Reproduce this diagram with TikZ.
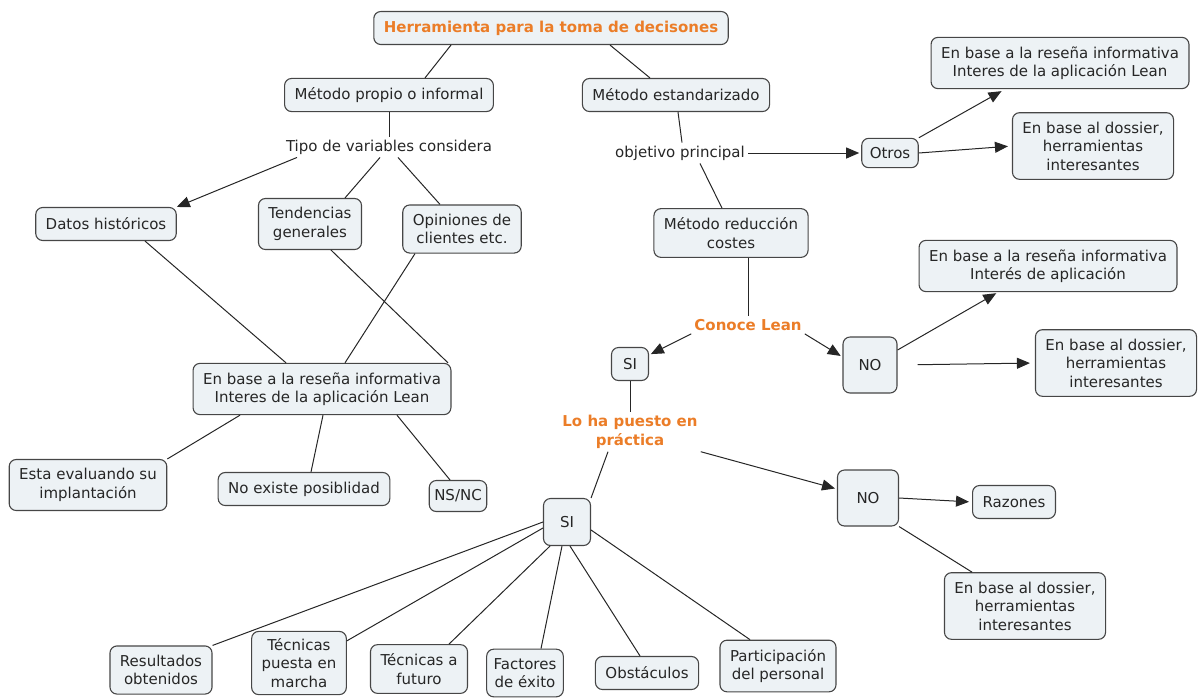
\documentclass[tikz,border=0pt]{standalone}
\usepackage{fontspec}
\setmainfont{DejaVu Sans}
\usetikzlibrary{arrows.meta}
\definecolor{fondo}{RGB}{237,242,245}
\definecolor{borde}{RGB}{70,70,70}
\definecolor{naranja}{RGB}{235,125,40}
\begin{document}
\begin{tikzpicture}[x=1pt, y=-1pt,
		caja/.style={draw=borde, fill=fondo, rounded corners=7pt, line width=1.1pt, align=center,
			inner xsep=10pt, inner ysep=9pt, minimum height=33pt, text=black!85,
			font=\fontsize{15}{18.5}\selectfont},
		etiqueta/.style={align=center, inner sep=3pt, text=black!85, font=\fontsize{15}{18.5}\selectfont},
		clave/.style={etiqueta, text=naranja, font=\bfseries\fontsize{15}{18.5}\selectfont},
		enlace/.style={draw=black!85, line width=1pt},
		flecha/.style={enlace, -{Triangle[length=13pt, width=11pt]}}]
	\useasboundingbox (0,0) rectangle (1198,697);

	% Concepts
	\node[caja, text=naranja, font=\bfseries\fontsize{15}{18.5}\selectfont] (herramienta) at (551,28) {Herramienta para la toma de decisones};
	\node[caja] (mpropio) at (389,95) {Método propio o informal};
	\node[caja] (mestand) at (676,95) {Método estandarizado};
	\node[etiqueta] (tipovar) at (389,147) {Tipo de variables considera};
	\node[caja] (datos) at (106,224) {Datos históricos};
	\node[caja] (tendencias) at (310,224) {Tendencias\\generales};
	\node[caja] (opiniones) at (462,229) {Opiniones de\\clientes etc.};
	\node[caja] (resena) at (322,389) {En base a la reseña informativa\\Interes de la aplicación Lean};
	\node[caja] (evaluando) at (88,485) {Esta evaluando su\\implantación};
	\node[caja] (noexiste) at (304,489) {No existe posiblidad};
	\node[caja, inner xsep=5pt, minimum height=31pt] (nsnc) at (458,496) {NS/NC};

	\node[etiqueta] (objetivo) at (680,153) {objetivo principal};
	\node[caja, inner xsep=8pt, minimum height=28pt] (otros) at (890,153) {Otros};
	\node[caja] (resenaOtros) at (1060,63) {En base a la reseña informativa\\Interes de la aplicación Lean};
	\node[caja] (dossierOtros) at (1093,146) {En base al dossier,\\herramientas\\interesantes};
	\node[caja] (mreduccion) at (731,233) {Método reducción\\costes};

	\node[clave] (conoce) at (748,325) {Conoce Lean};
	\node[caja, minimum width=37pt] (siConoce) at (630,364) {SI};
	\node[caja, minimum width=54pt, minimum height=56pt] (noConoce) at (870,365) {NO};
	\node[caja] (resenaNo) at (1048,266) {En base a la reseña informativa\\Interés de aplicación};
	\node[caja] (dossierNo) at (1116,363) {En base al dossier,\\herramientas\\interesantes};

	\node[clave] (practica) at (630,432) {Lo ha puesto en\\práctica};
	\node[caja, minimum width=47pt, minimum height=47pt] (siPractica) at (567,522) {SI};
	\node[caja, minimum width=61pt, minimum height=56pt] (noPractica) at (868,498) {NO};
	\node[caja] (razones) at (1014,502) {Razones};
	\node[caja] (dossierPractica) at (1025,606) {En base al dossier,\\herramientas\\interesantes};

	\node[caja] (resultados) at (161,670) {Resultados\\obtenidos};
	\node[caja, inner ysep=7pt] (tecMarcha) at (299,663) {Técnicas\\puesta en\\marcha};
	\node[caja] (tecFuturo) at (419,669) {Técnicas a\\futuro};
	\node[caja, inner xsep=7pt] (factores) at (525,673) {Factores\\de éxito};
	\node[caja] (obstaculos) at (647,673) {Obstáculos};
	\node[caja] (participacion) at (778,666) {Participación\\del personal};

	% Left branch
	\draw[enlace] ([xshift=-100pt]herramienta.south) -- ([xshift=36pt]mpropio.north);
	\draw[enlace] (mpropio) -- (tipovar);
	\draw[flecha] ([xshift=-92pt]tipovar.south) -- (datos.north east);
	\draw[enlace] ([xshift=-9pt]tipovar.south) -- ([xshift=35pt]tendencias.north);
	\draw[enlace] ([xshift=9pt]tipovar.south) -- ([xshift=-22pt]opiniones.north);
	\draw[enlace] ([xshift=39pt]datos.south) -- ([xshift=-36pt]resena.north);
	\draw[enlace] ([xshift=21pt]tendencias.south) -- ([xshift=126pt]resena.north);
	\draw[enlace] ([xshift=-47pt]opiniones.south) -- ([xshift=23pt]resena.north);
	\draw[enlace] ([xshift=-82pt]resena.south) -- (evaluando.north east);
	\draw[enlace] ([xshift=1pt]resena.south) -- ([xshift=7pt]noexiste.north);
	\draw[enlace] ([xshift=75pt]resena.south) -- ([xshift=-8pt]nsnc.north);

	% Right branch
	\draw[enlace] ([xshift=59pt]herramienta.south) -- ([xshift=-26pt]mestand.north);
	\draw[enlace] ([xshift=2pt]mestand.south) -- ([xshift=2pt]objetivo.north);
	\draw[flecha, shorten >=2pt] (objetivo) -- (otros);
	\draw[enlace] ([xshift=20pt]objetivo.south) -- ([xshift=-9pt]mreduccion.north);
	\draw[flecha, shorten >=4pt] (otros.north east) -- ([xshift=-55pt]resenaOtros.south);
	\draw[flecha, shorten >=4pt] (otros.east) -- (dossierOtros.west);
	\draw[enlace] ([xshift=17pt]mreduccion.south) -- (conoce.north);

	% Conoce Lean
	\draw[flecha, shorten >=2pt] (conoce.south west) -- ([yshift=9pt]siConoce.east);
	\draw[flecha, shorten >=2pt] (conoce.south east) -- ([yshift=8pt]noConoce.west);
	\draw[flecha, shorten >=2pt] ([yshift=15pt]noConoce.east) -- ([xshift=-50pt]resenaNo.south);
	\draw[flecha, shorten <=20pt, shorten >=5pt] (noConoce.east) -- (dossierNo.west);
	\draw[enlace] (siConoce) -- (practica);

	% Lo ha puesto en practica
	\draw[enlace] ([xshift=-22pt]practica.south) -- (siPractica.north east);
	\draw[flecha, shorten >=2pt] (practica.south east) -- ([yshift=9pt]noPractica.west);
	\draw[flecha, shorten >=3pt] (noPractica.east) -- (razones.west);
	\draw[enlace] (noPractica.south east) -- ([xshift=-53pt]dossierPractica.north);
	\draw[enlace] (siPractica.west) -- (resultados.north east);
	\draw[enlace] ([yshift=-6pt]siPractica.west) -- ([yshift=-10pt]tecMarcha.north east);
	\draw[enlace] ([xshift=-17pt]siPractica.south) -- ([xshift=30pt]tecFuturo.north);
	\draw[enlace] ([xshift=-5pt]siPractica.south) -- ([xshift=16pt]factores.north);
	\draw[enlace] ([xshift=3pt]siPractica.south) -- ([xshift=-7pt]obstaculos.north);
	\draw[enlace] ([yshift=-8pt]siPractica.east) -- ([xshift=-28pt]participacion.north);
\end{tikzpicture}
\end{document}
